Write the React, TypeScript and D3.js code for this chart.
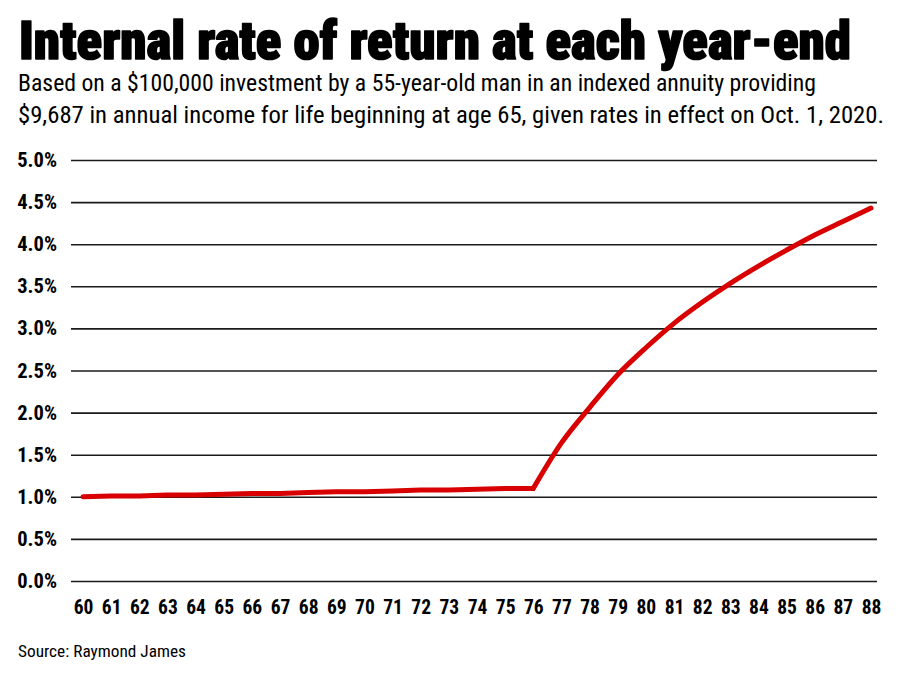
import React, { useRef, useEffect } from 'react';
import * as d3 from 'd3';

const ages = [60, 61, 62, 63, 64, 65, 66, 67, 68, 69, 70, 71, 72, 73, 74, 75, 76, 77, 78, 79, 80, 81, 82, 83, 84, 85, 86, 87, 88];
const irr = [1.0, 1.01, 1.01, 1.02, 1.02, 1.03, 1.04, 1.04, 1.05, 1.06, 1.06, 1.07, 1.08, 1.08, 1.09, 1.1, 1.1, 1.64, 2.06, 2.45, 2.77, 3.06, 3.31, 3.535, 3.74, 3.93, 4.11, 4.27, 4.43];
const yTicks = [0, 0.5, 1, 1.5, 2, 2.5, 3, 3.5, 4, 4.5, 5];
const kinkAge = 76;

const title = 'Internal rate of return at each year-end';
const subtitle = [
    'Based on a $100,000 investment by a 55-year-old man in an indexed annuity providing',
    '$9,687 in annual income for life beginning at age 65, given rates in effect on Oct. 1, 2020.',
];
const source = 'Source: Raymond James';

const narrow = "'Roboto Condensed', 'Liberation Sans Narrow', 'DejaVu Sans Condensed', sans-serif";

const App = () => {
    const ref = useRef<SVGSVGElement>(null);

    useEffect(() => {
        const svg = d3.select(ref.current);
        svg.selectAll('*').remove();

        const width = 900, height = 677;
        svg.attr('width', width).attr('height', height);

        svg.append('rect').attr('width', width).attr('height', height).attr('fill', '#fff');

        // titles
        svg.append('text')
            .attr('x', 19).attr('y', 59)
            .attr('textLength', 832).attr('lengthAdjust', 'spacingAndGlyphs')
            .style('font-family', narrow).style('font-weight', 900).style('font-size', '53px')
            .attr('fill', '#000')
            .attr('stroke', '#000').attr('stroke-width', 1.6).attr('stroke-linejoin', 'round')
            .text(title);

        subtitle.forEach((s, i) => {
            svg.append('text')
                .attr('x', 18).attr('y', 91 + i * 32)
                .attr('textLength', i === 0 ? 798 : 866).attr('lengthAdjust', 'spacingAndGlyphs')
                .style('font-family', narrow).style('font-size', '23px')
                .attr('fill', '#000')
                .text(s);
        });

        svg.append('text')
            .attr('x', 18).attr('y', 657)
            .attr('textLength', 168).attr('lengthAdjust', 'spacingAndGlyphs')
            .style('font-family', narrow).style('font-size', '17px')
            .attr('fill', '#000')
            .text(source);

        const x = d3.scaleLinear().domain([60, 88]).range([83, 871]);
        const y = d3.scaleLinear().domain([0, 5]).range([581, 160]);

        // gridlines + y labels
        const yAxis = d3.axisLeft(y)
            .tickValues(yTicks)
            .tickSize(-(877 - 71))
            .tickPadding(14)
            .tickFormat(d => `${(+d).toFixed(1)}%`);

        const gy = svg.append('g').attr('transform', 'translate(71,0)').call(yAxis);
        gy.select('.domain').remove();
        gy.selectAll('.tick line').attr('stroke', '#1a1a1a').attr('stroke-width', 1.6);
        gy.selectAll('.tick text')
            .style('font-family', narrow).style('font-weight', 700).style('font-size', '20.5px')
            .attr('fill', '#000');

        // x labels
        const xAxis = d3.axisBottom(x)
            .tickValues(ages)
            .tickSize(0)
            .tickPadding(0)
            .tickFormat(d => `${d}`);

        const gx = svg.append('g').attr('transform', 'translate(0,600)').call(xAxis);
        gx.select('.domain').remove();
        gx.selectAll('.tick text')
            .style('font-family', narrow).style('font-weight', 700).style('font-size', '19.5px')
            .attr('fill', '#000');

        // line: flat part straight, rising part smooth
        const data = ages.map((a, i) => ({ age: a, value: irr[i] }));
        const flat = data.filter(d => d.age <= kinkAge);
        const rise = data.filter(d => d.age >= kinkAge);

        const straight = d3.line<{ age: number, value: number }>()
            .x(d => x(d.age)).y(d => y(d.value));
        const smooth = d3.line<{ age: number, value: number }>()
            .x(d => x(d.age)).y(d => y(d.value))
            .curve(d3.curveMonotoneX);

        const path = (straight(flat) || '') + (smooth(rise) || '').replace(/^M/, 'L');

        svg.append('path')
            .attr('d', path)
            .attr('fill', 'none')
            .attr('stroke', '#d80000')
            .attr('stroke-width', 5)
            .attr('stroke-linecap', 'round')
            .attr('stroke-linejoin', 'miter');
    }, []);

    return (
        <div style={{ margin: -8 }}>
            <svg ref={ref} />
        </div>
    );
};

export default App;
